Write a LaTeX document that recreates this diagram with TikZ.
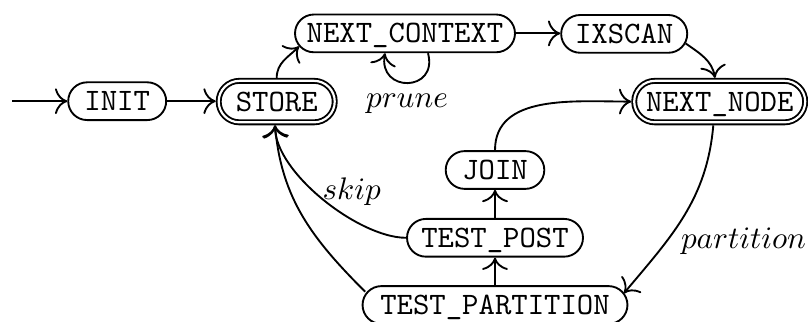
\documentclass[tikz,border=0pt]{standalone}
\usetikzlibrary{arrows.meta}
\begin{document}
\begin{tikzpicture}[x=0.3205pt,y=0.3205pt,
  state/.style={draw, semithick, rectangle, rounded corners=6.05pt, minimum height=12.1pt, inner sep=0pt, text height=6.11pt, text depth=0pt, font=\ttfamily},
  acc/.style={state, double, double distance=0.7pt, minimum height=13.3pt, rounded corners=6.65pt, outer sep=0.95pt},
  conn/.style={semithick, -{To[scale=1.35]}},
  lbl/.style={inner sep=0pt}
]
\useasboundingbox (0,0) rectangle (808,-322);
\node[state, minimum width=31.4pt] (init) at (117.2,-101.2) {INIT};
\node[acc, minimum width=37.2pt] (store) at (276.7,-101.6) {STORE};
\node[state, minimum width=70.5pt] (nc) at (405,-33.4) {NEXT\_CONTEXT};
\node[state, minimum width=40.4pt] (ix) at (624.2,-33.9) {IXSCAN};
\node[acc, minimum width=54.8pt] (nn) at (719.7,-101.6) {NEXT\_NODE};
\node[state, minimum width=31.6pt] (join) at (495,-170) {JOIN};
\node[state, minimum width=56.4pt] (tpost) at (495,-237.8) {TEST\_POST};
\node[state, minimum width=84.9pt] (tp) at (495,-305) {TEST\_PARTITION};
\coordinate (start) at (12,-101.2);

\draw[conn] (start) -- (init.west);
\draw[conn] (init.east) -- (init.east -| store.west);
\draw[conn] (store.north) to[out=90,in=225] ([shift={(5,-13)}]nc.west);
\draw[conn] ([shift={(23,0)}]nc.south) to[out=-75,in=-100,distance=13pt] ([shift={(-20,0)}]nc.south);
\draw[conn] (nc.east) -- (nc.east -| ix.west);
\draw[conn] ([shift={(-2.6,-9.5)}]ix.east) to[out=-35,in=100] ([shift={(-4.7,0)}]nn.north);
\draw[conn] ([shift={(-6.4,0)}]nn.south) to[out=-95,in=50] ([shift={(-4.5,11.7)}]tp.east);
\draw[conn] (tp.north) -- (tpost.south);
\draw[conn] (tpost.north) -- (join.south);
\draw[conn] (join.north) to[out=90,in=180] (nn.west);
\draw[conn] (tpost.west) to[out=180,in=-90,looseness=0.7] ([shift={(-1.7,0)}]store.south);
\draw[conn] ([shift={(3.5,13.3)}]tp.west) to[out=135,in=-85] ([shift={(-1.7,0)}]store.south);

\node[lbl] (prunel) at (407,-103.8) {$prune$};
\node[lbl] (skipl) at (351.7,-191.7) {$skip$};
\node[lbl] (partl) at (743.5,-241) {$partition$};
\end{tikzpicture}
\end{document}
